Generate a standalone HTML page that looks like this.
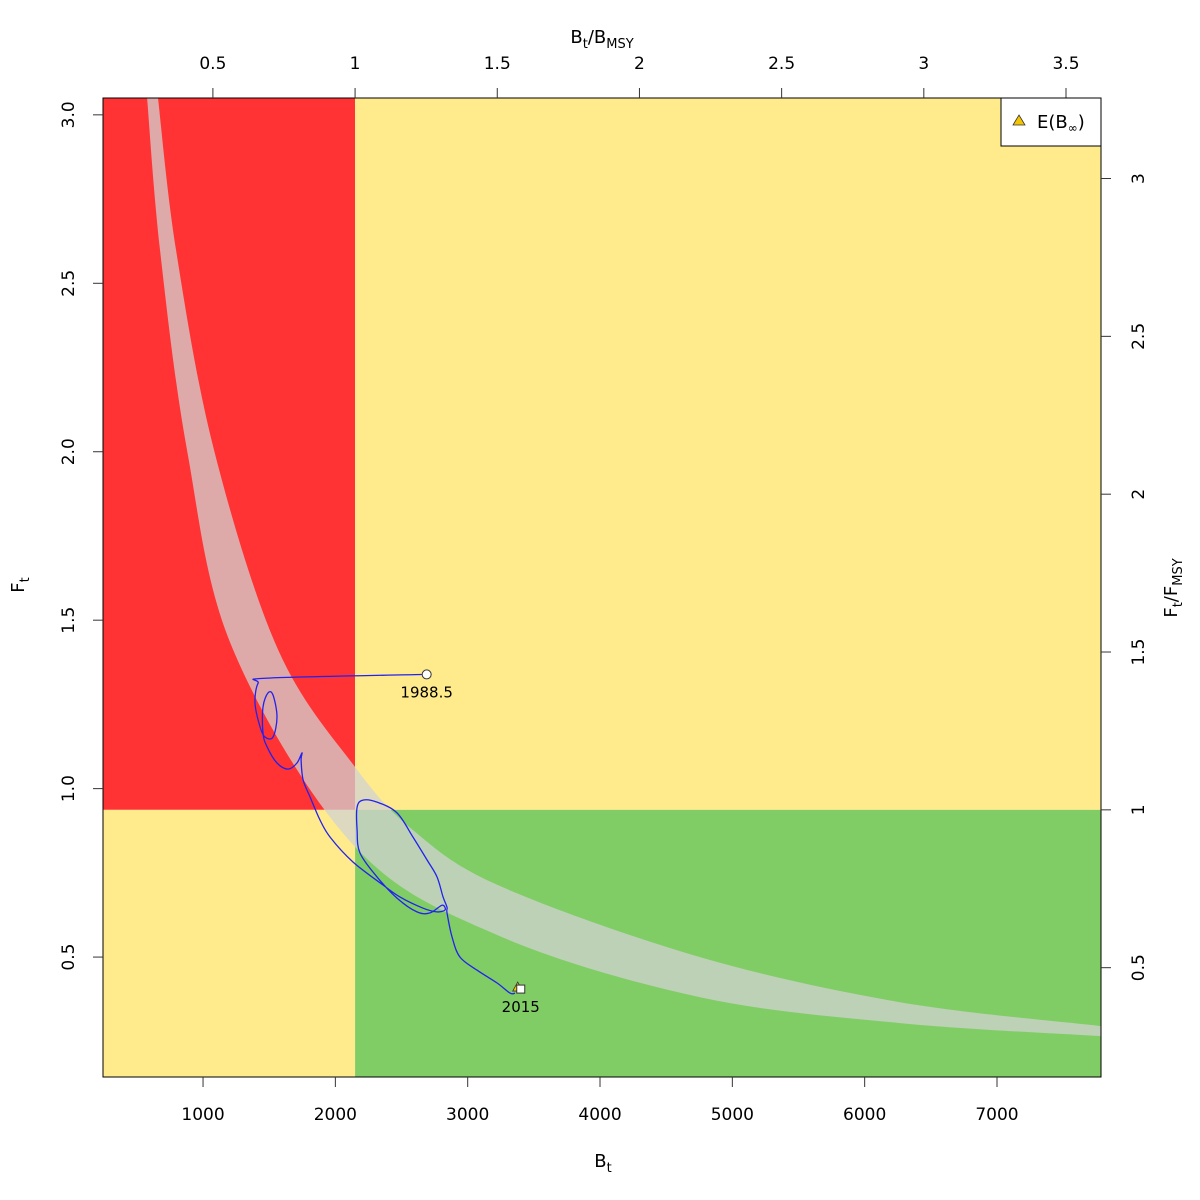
<!DOCTYPE html>
<html><head><meta charset="utf-8"><style>
body{margin:0;background:#fff}
svg{display:block;font-family:"DejaVu Sans","Liberation Sans",sans-serif}
</style></head><body>
<svg id="chart" width="1200" height="1200" viewBox="0 0 1200 1200">
<defs><clipPath id="pc"><rect x="103" y="98" width="998" height="979"/></clipPath></defs>
<g id="zones" clip-path="url(#pc)"></g>
<g id="band" clip-path="url(#pc)"></g>
<g id="traj" clip-path="url(#pc)"></g>
<g id="axes"></g>
</svg>
<script>
const xTicks=[1000,2000,3000,4000,5000,6000,7000];
const yTicks=[0.5,1.0,1.5,2.0,2.5,3.0];
const yTickLabels=["0.5","1.0","1.5","2.0","2.5","3.0"];
const topTicks=[0.5,1,1.5,2,2.5,3,3.5];
const topTickLabels=["0.5","1","1.5","2","2.5","3","3.5"];
const rightTicks=[0.5,1,1.5,2,2.5,3];
const rightTickLabels=["0.5","1","1.5","2","2.5","3"];
const Bmsy=2149;
const Fmsy=0.937;
const bandUpperB=[660,796,1083,1567,2149,2587,3244,4756,6267,7786];
const bandUpperF=[3.05,2.599,2.005,1.412,1.064,0.877,0.711,0.500,0.366,0.295];
const bandLowerB=[577,675,879,1227,2149,3244,4756,6267,7786];
const bandLowerF=[3.05,2.599,2.005,1.412,0.827,0.562,0.381,0.304,0.265];
const trajB=[2690,1491,1416,1393,1431,1469,1529,1559,1529,1491,1453,1453,1484,1559,1642,1710,1748,1741,1756,1809,1884,1960,2134,2360,2489,2663,2768,2829,2806,2715,2617,2466,2315,2186,2164,2164,2209,2315,2466,2587,2693,2768,2814,2844,2844,2882,2942,3071,3222,3320,3358];
const trajF=[1.339,1.328,1.313,1.254,1.183,1.153,1.153,1.213,1.278,1.284,1.242,1.165,1.124,1.076,1.058,1.076,1.106,1.085,1.026,0.975,0.907,0.856,0.782,0.714,0.678,0.645,0.634,0.640,0.654,0.631,0.634,0.675,0.738,0.809,0.877,0.945,0.966,0.960,0.928,0.856,0.788,0.738,0.678,0.648,0.631,0.559,0.500,0.461,0.423,0.393,0.393];
const startLabel="1988.5", endLabel="2015";
const endB=3401,endF=0.405, eBinfB=3378, eBinfF=0.411;

const X0=103,X1=1101,Y0=98,Y1=1077;
const bMin=244,bMax=7786,fMin=0.144,fMax=3.05;
const xs=b=>X0+(b-bMin)/(bMax-bMin)*(X1-X0);
const ys=f=>Y1-(f-fMin)/(fMax-fMin)*(Y1-Y0);
const NS="http://www.w3.org/2000/svg";
function mk(tag,parent,attrs){const e=document.createElementNS(NS,tag);for(const k in attrs)e.setAttribute(k,attrs[k]);parent.appendChild(e);return e;}
const zones=document.getElementById('zones'),band=document.getElementById('band'),traj=document.getElementById('traj'),axes=document.getElementById('axes');
const bx=xs(Bmsy),fy=ys(Fmsy);
let z;
z=mk('rect',zones,{x:X0,y:Y0,width:bx-X0,height:fy-Y0,fill:'#ff3333'});

z=mk('rect',zones,{x:bx,y:Y0,width:X1-bx,height:fy-Y0,fill:'#ffeb8c'});

z=mk('rect',zones,{x:X0,y:fy,width:bx-X0,height:Y1-fy,fill:'#ffeb8c'});

z=mk('rect',zones,{x:bx,y:fy,width:X1-bx,height:Y1-fy,fill:'#80cd66'});


function smooth(pts){let d='M'+pts[0][0].toFixed(1)+','+pts[0][1].toFixed(1);
 for(let i=0;i<pts.length-1;i++){const p0=pts[i-1]||pts[i],p1=pts[i],p2=pts[i+1],p3=pts[i+2]||p2;
 const c1=[p1[0]+(p2[0]-p0[0])/6,p1[1]+(p2[1]-p0[1])/6],c2=[p2[0]-(p3[0]-p1[0])/6,p2[1]-(p3[1]-p1[1])/6];
 d+=' C'+c1[0].toFixed(1)+','+c1[1].toFixed(1)+' '+c2[0].toFixed(1)+','+c2[1].toFixed(1)+' '+p2[0].toFixed(1)+','+p2[1].toFixed(1);}return d;}
const up=bandUpperB.map((b,i)=>[xs(b),ys(bandUpperF[i])]);
const lo=bandLowerB.map((b,i)=>[xs(b),ys(bandLowerF[i])]).reverse();
const upD=smooth(up), loD=smooth(lo).replace('M','L');
const bp=mk('path',band,{d:upD+' '+loD+' Z',fill:'rgba(210,210,210,0.75)'});


const tp=mk('path',traj,{d:smooth(trajB.map((b,i)=>[xs(b),ys(trajF[i])])),fill:'none',stroke:'#2222ee','stroke-width':1.3});

const sc=mk('circle',traj,{cx:xs(trajB[0]),cy:ys(trajF[0]),r:4.5,fill:'#fff',stroke:'#333','stroke-width':1});

let t=mk('text',traj,{x:xs(trajB[0]),y:ys(trajF[0])+23,'text-anchor':'middle','font-size':15});t.textContent=startLabel;

const tx=xs(eBinfB),ty=ys(eBinfF);
const tri=mk('polygon',traj,{points:`${tx-5},${ty+4} ${tx+5},${ty+4} ${tx},${ty-5}`,fill:'#f5c400',stroke:'#333','stroke-width':0.8});

const sq=mk('rect',traj,{x:xs(endB)-4,y:ys(endF)-4,width:8,height:8,fill:'#fff',stroke:'#333','stroke-width':1});

t=mk('text',traj,{x:xs(endB),y:ys(endF)+23,'text-anchor':'middle','font-size':15});t.textContent=endLabel;


const fr=mk('rect',axes,{x:X0,y:Y0,width:X1-X0,height:Y1-Y0,fill:'none',stroke:'#000','stroke-width':1});

xTicks.forEach(v=>{const x=xs(v);const l=mk('line',axes,{x1:x,x2:x,y1:Y1,y2:Y1+10,stroke:'#333'});
 
 const tt=mk('text',axes,{x:x,y:1120,'text-anchor':'middle','font-size':17});tt.textContent=v;
 });
yTicks.forEach((v,i)=>{const y=ys(v);const l=mk('line',axes,{x1:X0-10,x2:X0,y1:y,y2:y,stroke:'#333'});
 
 const tt=mk('text',axes,{x:74,y:y,'text-anchor':'middle','font-size':17,transform:`rotate(-90 74 ${y})`});tt.textContent=yTickLabels[i];
 });
topTicks.forEach((v,i)=>{const x=xs(v*Bmsy);const l=mk('line',axes,{x1:x,x2:x,y1:Y0-10,y2:Y0,stroke:'#333'});
 
 const tt=mk('text',axes,{x:x,y:69,'text-anchor':'middle','font-size':17});tt.textContent=topTickLabels[i];
 });
rightTicks.forEach((v,i)=>{const y=ys(v*Fmsy);const l=mk('line',axes,{x1:X1,x2:X1+10,y1:y,y2:y,stroke:'#333'});
 
 const tt=mk('text',axes,{x:1144,y:y,'text-anchor':'middle','font-size':17,transform:`rotate(-90 1144 ${y})`});tt.textContent=rightTickLabels[i];
 });
</script>
<svg style="position:absolute;left:0;top:0" width="1200" height="1200">
<text x="603" y="1167" text-anchor="middle" font-size="18" font-family="DejaVu Sans,sans-serif">B<tspan font-size="13" dy="5">t</tspan></text>
<text x="24" y="585" text-anchor="middle" font-size="18" font-family="DejaVu Sans,sans-serif" transform="rotate(-90 24 585)">F<tspan font-size="13" dy="5">t</tspan></text>
<text x="602" y="43" text-anchor="middle" font-size="18" font-family="DejaVu Sans,sans-serif">B<tspan font-size="13" dy="5">t</tspan><tspan dy="-5">/B</tspan><tspan font-size="13" dy="5">MSY</tspan></text>
<text x="1177" y="588" text-anchor="middle" font-size="18" font-family="DejaVu Sans,sans-serif" transform="rotate(-90 1177 588)">F<tspan font-size="13" dy="5">t</tspan><tspan dy="-5">/F</tspan><tspan font-size="13" dy="5">MSY</tspan></text>
<g>
<rect x="1001" y="98" width="100" height="48" fill="#fff" stroke="#000" stroke-width="1"/>
<polygon points="1013,125 1025,125 1019,115" fill="#f5c400" stroke="#333" stroke-width="0.8"/>
<text x="1037" y="128" font-size="18" font-family="DejaVu Sans,sans-serif">E(B<tspan font-size="12" dy="4">∞</tspan><tspan dy="-4">)</tspan></text>
</g>
</svg>
</body></html>
